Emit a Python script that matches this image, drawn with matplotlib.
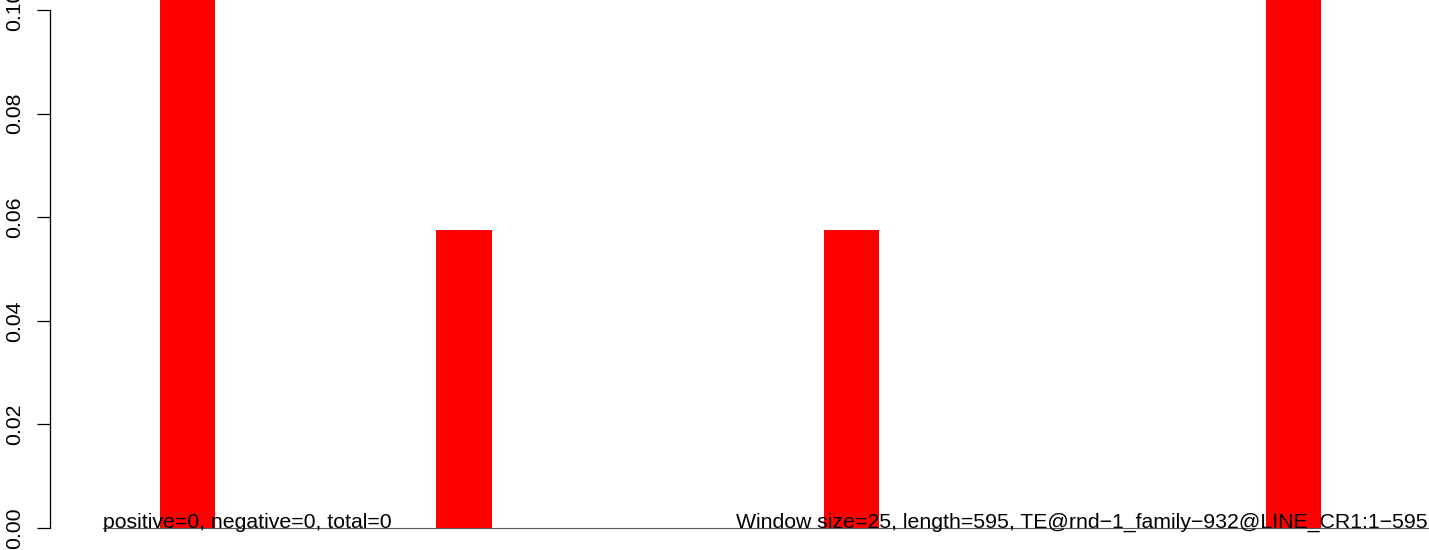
import numpy as np
import matplotlib.pyplot as plt
from matplotlib.transforms import blended_transform_factory

plt.rcParams['font.family'] = ['Liberation Sans', 'DejaVu Sans']

# window values (window size 25 over length 595 -> 24 windows)
window_vals = [0, 0.115, 0, 0, 0, 0, 0.0575, 0, 0, 0, 0, 0,
               0, 0.0575, 0, 0, 0, 0, 0, 0, 0, 0.115, 0, 0]
yticks = [0.00, 0.02, 0.04, 0.06, 0.08, 0.10]
ytick_labels = ["0.00", "0.02", "0.04", "0.06", "0.08", "0.10"]
left_text = "positive=0, negative=0, total=0"
right_text = "Window size=25, length=595, TE@rnd\u22121_family\u2212932@LINE_CR1:1\u2212595"

W, H, dpi = 1429, 550, 100
fig = plt.figure(figsize=(W / dpi, H / dpi), dpi=dpi)
x0_px, unit_px = 104.7, 55.3
n = len(window_vals)
ax = fig.add_axes([x0_px / W, 22 / H, n * unit_px / W, 1 - 22 / H])

x = np.arange(n)

# baseline from the text start to the right edge
tr = blended_transform_factory(fig.transFigure, ax.transData)
ax.plot([103 / W, 1.0], [0, 0], transform=tr, color='#555555', lw=0.8,
        zorder=1, clip_on=False)
ax.bar(x, window_vals, width=1.0, align='edge', color='#ff0000', zorder=2)

ax.set_xlim(0, n)
ax.set_ylim(0, 0.1 + 10 / 5180)

for s in ['top', 'right', 'bottom']:
    ax.spines[s].set_visible(False)
ax.spines['left'].set_position(('outward', 39.3))
ax.spines['left'].set_bounds(0, 0.1)
ax.spines['left'].set_linewidth(0.9)
ax.set_xticks([])
ax.set_yticks(yticks)
ax.set_yticklabels(ytick_labels, rotation=90, va='center', fontsize=15.3)
ax.tick_params(axis='y', length=9.5, width=0.9, pad=9.5)

ax.text(103 / W, 0, left_text, transform=tr, ha='left', va='baseline',
        fontsize=15.3, zorder=3)
ax.text(1428 / W, 0, right_text, transform=tr, ha='right', va='baseline',
        fontsize=15.3, zorder=3)

fig.savefig('out.png', dpi=dpi)
